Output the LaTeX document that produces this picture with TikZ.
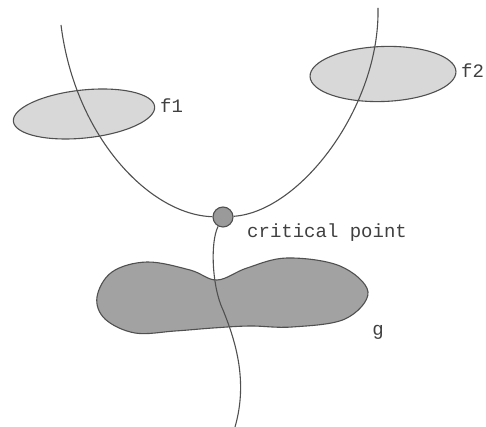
\documentclass[tikz,border=0pt]{standalone}
\usepackage{fontspec}
\newfontfamily\typefont{Liberation Mono}
\usetikzlibrary{shapes.geometric}
\definecolor{inkgray}{HTML}{505050}
\definecolor{lightfill}{HTML}{D8D8D8}
\definecolor{darkfill}{HTML}{A2A2A2}
\tikzset{
  blob/.style={draw=inkgray, line width=1.1pt, ellipse, inner sep=0pt, fill=lightfill},
  path line/.style={draw=inkgray, line width=1.1pt},
  tag/.style={font=\typefont\fontsize{19}{19}\selectfont, text=inkgray!80!black, inner sep=0pt}
}
\begin{document}
\begin{tikzpicture}[x=1pt, y=1pt]
\useasboundingbox (0,0) rectangle (486,427);
\node[blob, minimum width=142, minimum height=48, rotate=6] (f1) at (84,313) {};
\node[blob, minimum width=146, minimum height=55, rotate=2] (f2) at (383,353) {};
\fill[darkfill, draw=inkgray, line width=1.1pt] plot[smooth cycle, tension=0.6] coordinates {(97,130) (112,155) (147,165) (190,157) (217,147) (247,159) (287,169) (340,161) (368,135) (345,108) (292,100) (250,101) (213,99) (175,96) (135,94) (105,108)};
\node[circle, draw=inkgray, line width=1.1pt, fill=darkfill!95!black, minimum size=20, inner sep=0pt] (cp) at (223,210) {};
\coordinate (lefttop) at (61,402);
\coordinate (righttop) at (378,419);
\coordinate (mid) at (223,117);
\coordinate (bottom) at (235,0);
\draw[path line] (lefttop) .. controls (75,290) and (150,212) .. (cp);
\draw[path line] (righttop) .. controls (380,320) and (300,215) .. (cp);
\draw[path line] (cp) .. controls (210,185) and (212,140) .. (mid) .. controls (236,85) and (248,45) .. (bottom);
\node[tag, anchor=base west] (f1label) at (160,314) {f1};
\node[tag, anchor=base west] (f2label) at (461,349) {f2};
\node[tag, anchor=base west] (cplabel) at (247,189) {critical point};
\node[tag, anchor=base] (glabel) at (378,91) {g};
\end{tikzpicture}
\end{document}
